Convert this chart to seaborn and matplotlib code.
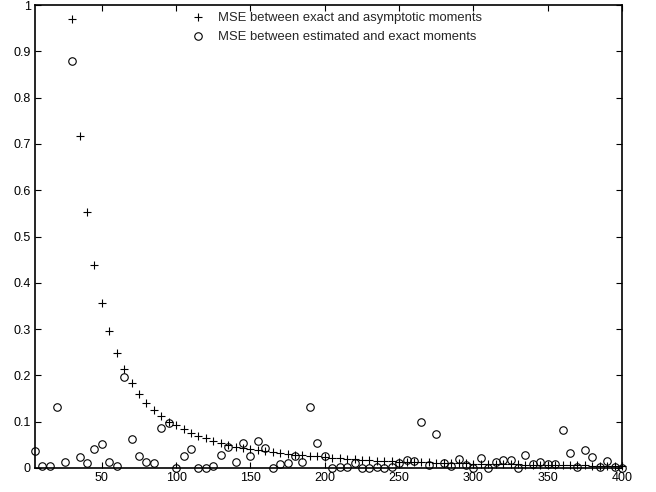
import numpy as np
import pandas as pd
import matplotlib
matplotlib.use("Agg")
import matplotlib.pyplot as plt
import seaborn as sns

# --- data ---------------------------------------------------------------
x_est = list(range(5, 405, 5))
mse_est = [0.037, 0.004, 0.004, 0.131, 0.014, 0.879, 0.023, 0.010, 0.041, 0.052,
           0.014, 0.004, 0.196, 0.062, 0.025, 0.014, 0.011, 0.086, 0.097, 0.001,
           0.025, 0.041, 0.001, 0.001, 0.005, 0.028, 0.046, 0.014, 0.055, 0.026,
           0.059, 0.043, 0.001, 0.009, 0.010, 0.026, 0.013, 0.131, 0.055, 0.026,
           0.001, 0.003, 0.003, 0.010, 0.001, 0.001, 0.003, 0.001, 0.002, 0.010,
           0.017, 0.016, 0.100, 0.006, 0.073, 0.010, 0.004, 0.019, 0.007, 0.001,
           0.022, 0.001, 0.014, 0.017, 0.017, 0.001, 0.028, 0.009, 0.012, 0.008,
           0.008, 0.081, 0.032, 0.003, 0.038, 0.023, 0.003, 0.015, 0.002, 0.001]

x_asy = list(range(30, 405, 5))
mse_asy = [0.970, 0.718, 0.553, 0.439, 0.356, 0.295, 0.249, 0.213, 0.184, 0.160,
           0.141, 0.125, 0.112, 0.100, 0.093, 0.084, 0.076, 0.069, 0.065, 0.059,
           0.054, 0.049, 0.045, 0.043, 0.040, 0.039, 0.037, 0.034, 0.032, 0.030,
           0.029, 0.027, 0.026, 0.025, 0.024, 0.022, 0.021, 0.020, 0.019, 0.018,
           0.017, 0.016, 0.015, 0.015, 0.014, 0.013, 0.013, 0.012, 0.012, 0.011,
           0.011, 0.010, 0.010, 0.010, 0.009, 0.009, 0.009, 0.008, 0.008, 0.008,
           0.008, 0.007, 0.007, 0.007, 0.007, 0.006, 0.006, 0.006, 0.006, 0.006,
           0.005, 0.005, 0.005, 0.005, 0.005]

label_asy = "MSE between exact and asymptotic moments"
label_est = "MSE between estimated and exact moments"

x_ticks = [50, 100, 150, 200, 250, 300, 350, 400]
y_ticks = [0, 0.1, 0.2, 0.3, 0.4, 0.5, 0.6, 0.7, 0.8, 0.9, 1]
y_ticklabels = ["0", "0.1", "0.2", "0.3", "0.4", "0.5", "0.6", "0.7", "0.8", "0.9", "1"]

# --- style --------------------------------------------------------------
sns.set_theme(style="ticks")
plt.rcParams["font.family"] = ["Liberation Sans", "DejaVu Sans"]
plt.rcParams["xtick.direction"] = "in"
plt.rcParams["ytick.direction"] = "in"

fig = plt.figure(figsize=(6.56, 4.92), dpi=100)
ax = fig.add_axes([35 / 656, 1 - 468 / 492, (622 - 35) / 656, (468 - 5) / 492])

df_asy = pd.DataFrame({"x": x_asy, "y": mse_asy})
df_est = pd.DataFrame({"x": x_est, "y": mse_est})

sns.lineplot(data=df_asy, x="x", y="y", ax=ax, estimator=None, sort=False,
             linestyle="none", marker="+", markersize=5.5, markeredgewidth=0.8,
             markeredgecolor="black", color="black", label=label_asy,
             clip_on=False, zorder=3)
sns.lineplot(data=df_est, x="x", y="y", ax=ax, estimator=None, sort=False,
             linestyle="none", marker="o", markersize=5.4, markeredgewidth=0.8,
             markerfacecolor="none", markeredgecolor="black", color="black",
             label=label_est, clip_on=False, zorder=3)

ax.set_xlim(5, 400)
ax.set_ylim(0, 1)
ax.set_xticks(x_ticks)
ax.set_xticklabels([str(t) for t in x_ticks])
ax.set_yticks(y_ticks)
ax.set_yticklabels(y_ticklabels)
ax.set_xlabel("")
ax.set_ylabel("")
ax.tick_params(axis="both", which="both", labelsize=9, length=4, width=0.8,
               top=True, right=True, color="black", labelcolor="black", pad=3)
for s in ax.spines.values():
    s.set_visible(True)
    s.set_color("black")
    s.set_linewidth(1.2)

leg = ax.legend(loc="upper left", bbox_to_anchor=(191 / 656, 1 - 12 / 492),
                bbox_transform=fig.transFigure, frameon=False, fontsize=9.4,
                handlelength=1.0, handletextpad=1.1, labelspacing=0.55,
                borderaxespad=0, borderpad=0)

fig.savefig("out.png", dpi=100)
